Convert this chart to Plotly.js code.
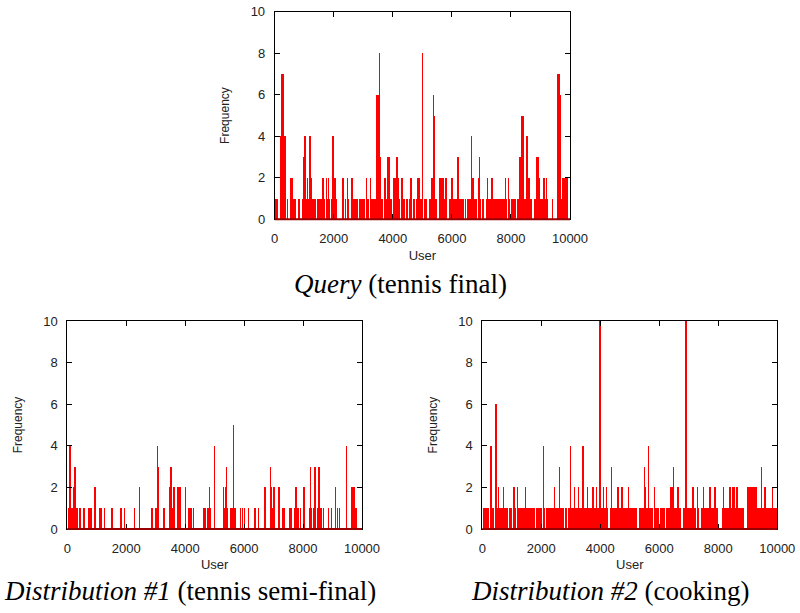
<!DOCTYPE html>
<html>
<head>
<meta charset="utf-8">
<script src="https://cdn.plot.ly/plotly-3.0.1.min.js"></script>
<style>html,body{margin:0;padding:0;background:#fff;}#chart{width:800px;height:613px;}</style>
</head>
<body>
<div id="chart"></div>
<script>
// ---- Data (user id -> frequency; users not listed have frequency 0) ----
const queryUsers = [33,78,191,213,247,281,326,349,428,552,586,620,665,710,823,846,936,970,1004,1037,1071,1105,1139,1173,1207,1241,1275,1331,1376,1444,1489,1534,1568,1613,1647,1681,1738,1771,1817,1862,1907,1963,1997,2042,2076,2302,2336,2392,2449,2494,2618,2652,2708,2753,2798,2866,2911,2956,3002,3036,3104,3149,3182,3239,3284,3329,3374,3419,3464,3498,3543,3577,3611,3656,3713,3758,3792,3837,3871,3916,3961,4029,4063,4097,4142,4187,4232,4278,4323,4357,4402,4447,4492,4571,4605,4639,4684,4741,4786,4842,4887,4932,4977,5010,5067,5123,5259,5304,5338,5372,5406,5440,5485,5575,5620,5665,5710,5744,5789,5823,5914,5959,6004,6038,6094,6139,6207,6241,6309,6354,6399,6456,6523,6568,6614,6670,6715,6760,6817,6896,6930,6964,7043,7077,7167,7201,7246,7291,7336,7370,7415,7460,7506,7551,7596,7641,7686,7731,7765,7810,7855,7912,7946,8014,8059,8104,8149,8228,8262,8296,8330,8375,8409,8443,8488,8533,8567,8612,8657,8702,8792,8838,8883,8917,8951,8996,9052,9097,9131,9176,9210,9244,9402,9594,9628,9662,9696,9741,9786,9831,9876,9921];
const queryFreq = [1,1,1,4,7,7,4,4,1,2,2,1,1,1,1,1,1,3,4,4,1,2,1,4,4,2,1,1,1,1,1,1,1,2,2,1,2,1,2,1,1,4,4,2,1,2,2,1,2,1,2,1,1,1,1,1,1,1,1,1,2,1,1,2,1,1,1,1,6,6,8,3,1,1,2,2,1,3,3,1,1,2,2,2,3,2,1,2,2,1,1,1,1,1,2,2,1,1,1,2,2,1,1,8,1,1,1,2,2,6,5,1,1,2,2,2,2,1,2,2,1,1,2,1,1,1,3,1,1,1,1,1,1,1,1,4,2,1,1,2,3,1,1,1,1,2,1,1,2,2,1,1,1,1,1,1,1,1,1,2,1,2,1,1,1,1,1,1,1,3,3,5,5,1,1,4,4,2,1,1,1,1,3,3,2,1,1,2,2,1,2,1,1,7,7,6,1,2,2,2,2,2];

const dist1Users = [35,69,103,159,193,227,261,295,352,408,453,544,589,713,770,826,917,950,1086,1131,1176,1278,1493,1527,1809,1854,1956,2295,2442,2860,2905,3007,3041,3075,3109,3256,3301,3459,3493,3527,3561,3595,3629,3730,3764,3798,3832,4024,4103,4137,4171,4227,4272,4612,4646,4691,4759,4804,4838,4872,5007,5312,5346,5380,5414,5448,5538,5572,5606,5640,5674,5708,5877,5934,6001,6148,6352,6397,6476,6679,6713,6883,6917,6951,6984,7030,7154,7188,7290,7323,7369,7527,7572,7617,7696,7742,7775,7809,7855,7900,8001,8035,8216,8261,8295,8340,8374,8408,8499,8521,8555,8589,8634,8679,8849,8973,9109,9177,9222,9459,9629,9663,9697,9742,9787,9821];
const dist1Freq = [1,4,4,1,1,2,3,1,1,1,1,1,1,1,1,1,2,2,1,1,1,1,1,1,1,1,1,1,2,1,1,1,1,4,3,1,1,2,3,3,1,2,2,2,2,2,2,2,1,1,1,1,1,1,1,1,1,1,2,1,4,2,1,2,3,1,1,1,1,5,1,1,1,1,1,1,1,1,1,2,2,3,2,1,2,2,2,2,1,1,1,1,1,1,1,2,2,1,1,1,2,2,1,3,1,1,3,3,1,3,3,1,1,1,1,1,2,1,1,4,2,2,2,2,1,1];

const dist2Users = [24,69,114,159,205,272,306,340,385,453,487,521,555,600,645,679,713,747,792,837,928,973,1052,1086,1131,1188,1222,1267,1312,1357,1402,1436,1470,1504,1549,1594,1640,1685,1730,1775,1832,1877,1922,1967,2013,2080,2114,2160,2205,2250,2295,2363,2419,2453,2498,2544,2589,2623,2668,2713,2758,2804,2849,2917,2962,2996,3041,3086,3120,3165,3210,3256,3301,3346,3391,3425,3470,3515,3561,3606,3651,3696,3742,3776,3821,3855,3900,3945,3990,4024,4069,4114,4160,4205,4250,4363,4386,4431,4476,4521,4566,4600,4646,4691,4736,4781,4826,4871,4917,4962,5007,5030,5075,5120,5165,5210,5323,5369,5414,5459,5493,5527,5561,5606,5640,5685,5730,5775,5832,5877,5922,5967,6047,6092,6137,6182,6250,6295,6340,6386,6419,6453,6487,6521,6566,6600,6634,6679,6724,6815,6849,6894,6928,6962,7007,7052,7097,7143,7188,7233,7290,7335,7448,7493,7538,7583,7629,7674,7719,7764,7809,7855,7888,7934,7979,8137,8182,8227,8273,8318,8363,8397,8442,8476,8510,8544,8589,8634,8679,8724,8770,8815,8849,8985,9019,9053,9086,9120,9154,9188,9222,9256,9290,9324,9368,9414,9459,9493,9538,9583,9617,9662,9697,9742,9787,9832,9877,9922,9967];
const dist2Freq = [1,1,1,1,1,4,4,1,1,6,6,1,2,1,1,1,2,1,1,1,1,1,2,2,1,2,1,1,1,1,1,1,2,1,1,1,1,1,1,1,1,1,1,1,1,4,1,1,1,1,1,1,1,2,1,1,1,3,1,1,1,1,1,1,1,4,1,1,2,1,1,2,1,1,4,4,1,1,2,1,1,1,2,2,1,2,1,1,10,1,1,2,1,2,1,1,3,1,1,1,1,2,1,1,2,1,1,1,1,2,1,1,1,1,1,1,1,1,1,1,3,2,1,1,4,1,1,1,2,1,1,1,1,1,1,1,1,1,1,2,2,2,3,1,1,1,2,1,1,1,1,10,10,1,1,1,1,2,1,1,2,1,1,2,1,1,1,1,2,1,1,1,2,1,1,1,2,1,1,1,1,2,1,2,2,2,1,2,1,1,1,1,1,2,2,2,2,2,2,2,2,2,2,1,1,1,3,1,1,2,1,1,1,1,1,2,1,1,1];

const xTickVals = [0, 2000, 4000, 6000, 8000, 10000];
const xTickText = ['0', '2000', '4000', '6000', '8000', '10000'];
const yTickVals = [0, 2, 4, 6, 8, 10];
const yTickText = ['0', '2', '4', '6', '8', '10'];
const captions = ['<i>Query</i> (tennis final)', '<i>Distribution #1</i> (tennis semi-final)', '<i>Distribution #2</i> (cooking)'];
const xTitle = 'User';
const yTitle = 'Frequency';

// ---- Styling ----
const sansFont = '"Liberation Sans", Arial, Helvetica, sans-serif';
const serifFont = '"Liberation Serif", "Times New Roman", Times, serif';
const red = '#ff0000';

function spikes(xs, ys, xa, ya) {
  return {
    type: 'bar', x: xs, y: ys, xaxis: xa, yaxis: ya,
    width: 36,
    marker: {color: red, line: {width: 0}},
    hoverinfo: 'x+y'
  };
}

function xAxis(domain, anchor) {
  return {
    domain: domain, anchor: anchor, range: [0, 10000],
    tickmode: 'array', tickvals: xTickVals, ticktext: xTickText,
    ticks: 'inside', ticklen: 5, tickwidth: 1, tickcolor: '#000',
    showline: true, linecolor: '#000', linewidth: 1, mirror: 'ticks',
    showgrid: false, zeroline: false,
    tickfont: {family: sansFont, size: 13, color: '#222'},
    ticklabelstandoff: 7,
    title: {text: xTitle, font: {family: sansFont, size: 13, color: '#222'}, standoff: 5}
  };
}
function yAxis(domain, anchor) {
  return {
    domain: domain, anchor: anchor, range: [0, 10],
    tickmode: 'array', tickvals: yTickVals, ticktext: yTickText,
    ticks: 'inside', ticklen: 5, tickwidth: 1, tickcolor: '#000',
    showline: true, linecolor: '#000', linewidth: 1, mirror: 'ticks',
    showgrid: false, zeroline: false,
    tickfont: {family: sansFont, size: 13, color: '#222'},
    ticklabelstandoff: 6,
    title: {text: yTitle, font: {family: sansFont, size: 12, color: '#222'}, standoff: 18}
  };
}

const data = [
  spikes(queryUsers, queryFreq, 'x', 'y'),
  spikes(dist1Users, dist1Freq, 'x2', 'y2'),
  spikes(dist2Users, dist2Freq, 'x3', 'y3')
];

const topY = [0.6422, 0.9809];
const botY = [0.1370, 0.4763];

function baseline(xref, yref) {
  return {type: 'line', xref: xref + ' domain', yref: yref + ' domain', x0: 0, x1: 1, y0: 0, y1: 0,
          line: {color: '#990000', width: 2}, layer: 'above'};
}
function caption(text, x, y) {
  return {text: text, xref: 'paper', yref: 'paper', x: x, y: y, xanchor: 'center', yanchor: 'middle',
          showarrow: false, font: {family: serifFont, size: 27, color: '#000'}};
}

const layout = {
  width: 800, height: 613,
  margin: {l: 0, r: 0, t: 0, b: 0},
  paper_bgcolor: '#fff', plot_bgcolor: '#fff',
  showlegend: false, bargap: 0,
  xaxis: xAxis([0.3434, 0.7125], 'y'),
  yaxis: yAxis(topY, 'x'),
  xaxis2: xAxis([0.0841, 0.4525], 'y2'),
  yaxis2: yAxis(botY, 'x2'),
  xaxis3: xAxis([0.6029, 0.9716], 'y3'),
  yaxis3: yAxis(botY, 'x3'),
  shapes: [baseline('x', 'y'), baseline('x2', 'y2'), baseline('x3', 'y3')],
  annotations: [
    caption(captions[0], 0.501, 1 - 284 / 613),
    caption(captions[1], 0.2375, 1 - 591 / 613),
    caption(captions[2], 0.7625, 1 - 591 / 613)
  ]
};

Plotly.newPlot('chart', data, layout, {staticPlot: true, displayModeBar: false});
</script>
</body>
</html>
